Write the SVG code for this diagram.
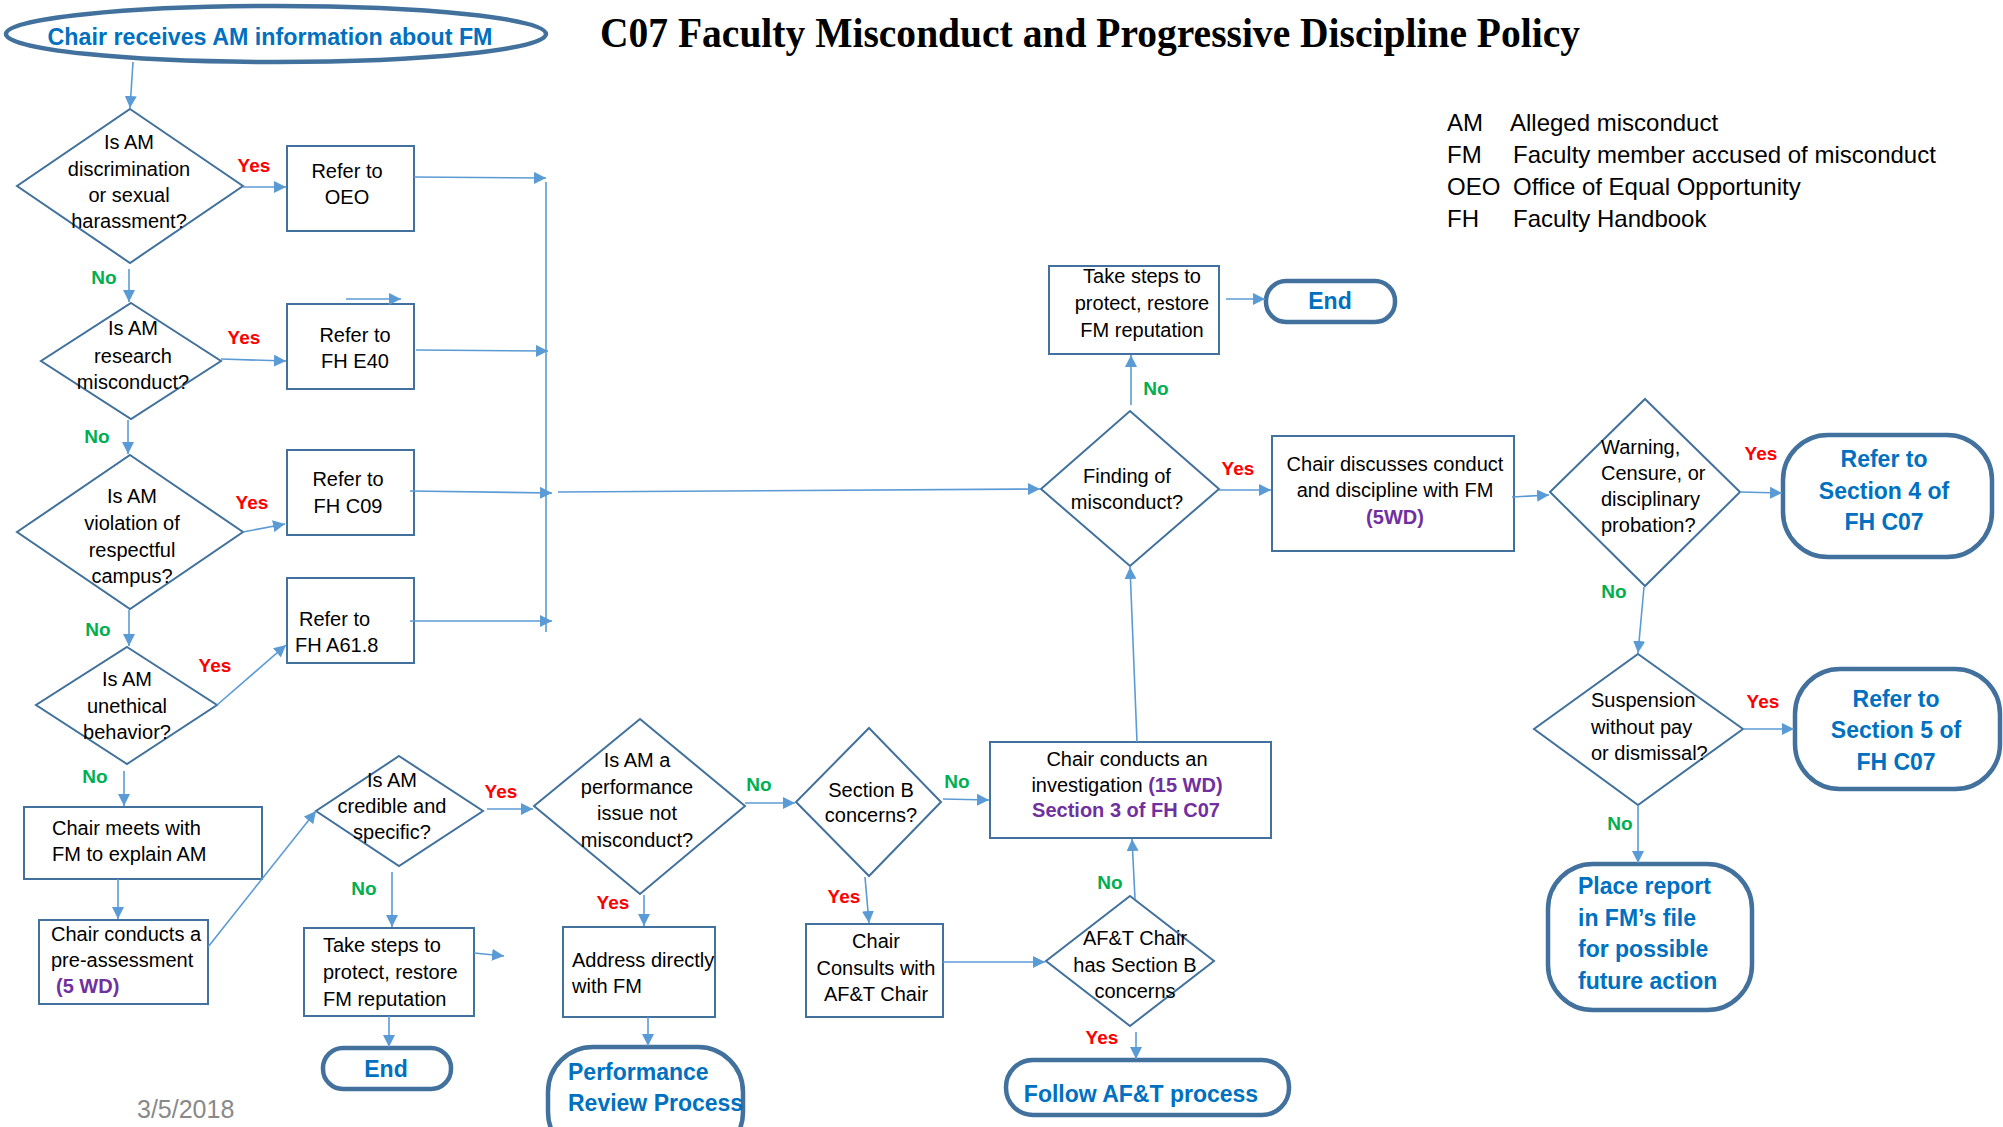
<svg xmlns="http://www.w3.org/2000/svg" width="2003" height="1127" viewBox="0 0 2003 1127">
<style>
.t{font-family:"Liberation Sans",Arial,sans-serif;font-size:20px;fill:#000}
.c{text-anchor:middle}
.lg{font-family:"Liberation Sans",Arial,sans-serif;font-size:24px;fill:#000}
.yes{font-family:"Liberation Sans",Arial,sans-serif;font-size:19px;font-weight:bold;fill:#FF0000;text-anchor:middle}
.no{font-family:"Liberation Sans",Arial,sans-serif;font-size:19px;font-weight:bold;fill:#00B050;text-anchor:middle}
.tt{font-family:"Liberation Sans",Arial,sans-serif;font-size:23px;font-weight:bold;fill:#0070C0}
.pur{font-weight:bold;fill:#7030A0}
.box{fill:#fff;stroke:#41719C;stroke-width:2}
.term{fill:#fff;stroke:#41719C;stroke-width:4.5}
.conn line{stroke:#5B9BD5;stroke-width:1.6;fill:none}
.arr{marker-end:url(#ah)}
</style>
<defs>
<marker id="ah" markerUnits="userSpaceOnUse" markerWidth="13" markerHeight="12" refX="12" refY="6" orient="auto">
<path d="M0,0 L12,6 L0,12 z" fill="#5B9BD5"/>
</marker>
</defs>
<rect width="2003" height="1127" fill="#fff"/>

<g id="title">
<text x="1090" y="47" text-anchor="middle" font-family="'Liberation Serif','Times New Roman',serif" font-size="43" font-weight="bold" textLength="980" lengthAdjust="spacingAndGlyphs">C07 Faculty Misconduct and Progressive Discipline Policy</text>
</g>

<g id="legend" class="lg">
<text x="1447" y="131">AM</text><text x="1510" y="131">Alleged misconduct</text>
<text x="1447" y="163">FM</text><text x="1513" y="163">Faculty member accused of misconduct</text>
<text x="1447" y="195">OEO</text><text x="1513" y="195">Office of Equal Opportunity</text>
<text x="1447" y="227">FH</text><text x="1513" y="227">Faculty Handbook</text>
</g>

<g id="date">
<text x="137" y="1118" font-family="'Liberation Sans',Arial,sans-serif" font-size="25" fill="#898989">3/5/2018</text>
</g>

<g id="start">
<ellipse cx="276" cy="34" rx="270" ry="28" class="term"/>
<text x="270" y="45" class="tt c" textLength="445" lengthAdjust="spacingAndGlyphs">Chair receives AM information about FM</text>
</g>

<g id="d1">
<polygon points="130,109 243,186 130,263 17,186" class="box"/>
<text class="t c"><tspan x="129" y="149">Is AM</tspan><tspan x="129" y="176">discrimination</tspan><tspan x="129" y="202">or sexual</tspan><tspan x="129" y="228">harassment?</tspan></text>
</g>
<g id="oeo">
<rect x="287" y="146" width="127" height="85" class="box"/>
<text class="t c"><tspan x="347" y="178">Refer to</tspan><tspan x="347" y="204">OEO</tspan></text>
</g>

<g id="d2">
<polygon points="131,303 221,361 131,419 41,361" class="box"/>
<text class="t c"><tspan x="133" y="335">Is AM</tspan><tspan x="133" y="363">research</tspan><tspan x="133" y="389">misconduct?</tspan></text>
</g>
<g id="e40">
<rect x="287" y="304" width="127" height="85" class="box"/>
<text class="t c"><tspan x="355" y="342">Refer to</tspan><tspan x="355" y="368">FH E40</tspan></text>
</g>

<g id="d3">
<polygon points="130,455 243,532 130,609 17,532" class="box"/>
<text class="t c"><tspan x="132" y="503">Is AM</tspan><tspan x="132" y="530">violation of</tspan><tspan x="132" y="557">respectful</tspan><tspan x="132" y="583">campus?</tspan></text>
</g>
<g id="c09">
<rect x="287" y="450" width="127" height="85" class="box"/>
<text class="t c"><tspan x="348" y="486">Refer to</tspan><tspan x="348" y="513">FH C09</tspan></text>
</g>

<g id="d4">
<polygon points="127,647 217,705 127,764 36,705" class="box"/>
<text class="t c"><tspan x="127" y="686">Is AM</tspan><tspan x="127" y="713">unethical</tspan><tspan x="127" y="739">behavior?</tspan></text>
</g>
<g id="a618">
<rect x="287" y="578" width="127" height="85" class="box"/>
<text class="t"><tspan x="299" y="626">Refer to</tspan><tspan x="295" y="652">FH A61.8</tspan></text>
</g>

<g id="meets">
<rect x="24" y="807" width="238" height="72" class="box"/>
<text class="t"><tspan x="52" y="835">Chair meets with</tspan><tspan x="52" y="861">FM to explain AM</tspan></text>
</g>
<g id="preassess">
<rect x="39" y="920" width="169" height="84" class="box"/>
<text class="t"><tspan x="51" y="941">Chair conducts a</tspan><tspan x="51" y="967">pre-assessment</tspan><tspan x="56" y="993" class="pur">(5 WD)</tspan></text>
</g>

<g id="d5">
<polygon points="399,756 483,811 399,866 316,811" class="box"/>
<text class="t c"><tspan x="392" y="787">Is AM</tspan><tspan x="392" y="813">credible and</tspan><tspan x="392" y="839">specific?</tspan></text>
</g>
<g id="steps1">
<rect x="304" y="928" width="170" height="88" class="box"/>
<text class="t"><tspan x="323" y="952">Take steps to</tspan><tspan x="323" y="979">protect, restore</tspan><tspan x="323" y="1006">FM reputation</tspan></text>
</g>
<g id="end1">
<rect x="323" y="1048" width="128" height="41" rx="20" class="term"/>
<text x="386" y="1077" class="tt c">End</text>
</g>

<g id="d6">
<polygon points="640,719 745,806 640,894 534,806" class="box"/>
<text class="t c"><tspan x="637" y="767">Is AM a</tspan><tspan x="637" y="794">performance</tspan><tspan x="637" y="820">issue not</tspan><tspan x="637" y="847">misconduct?</tspan></text>
</g>
<g id="address">
<rect x="563" y="927" width="152" height="90" class="box"/>
<text class="t"><tspan x="572" y="967">Address directly</tspan><tspan x="572" y="993">with FM</tspan></text>
</g>
<g id="perf">
<rect x="548" y="1047" width="195" height="110" rx="45" class="term"/>
<text class="tt"><tspan x="568" y="1080">Performance</tspan><tspan x="568" y="1111">Review Process</tspan></text>
</g>

<g id="d7">
<polygon points="869,728 941,802 869,876 796,802" class="box"/>
<text class="t c"><tspan x="871" y="797">Section B</tspan><tspan x="871" y="822">concerns?</tspan></text>
</g>
<g id="consult">
<rect x="806" y="924" width="137" height="93" class="box"/>
<text class="t c"><tspan x="876" y="948">Chair</tspan><tspan x="876" y="975">Consults with</tspan><tspan x="876" y="1001">AF&amp;T Chair</tspan></text>
</g>
<g id="investigation">
<rect x="990" y="742" width="281" height="96" class="box"/>
<text class="t c"><tspan x="1127" y="766">Chair conducts an</tspan><tspan x="1127" y="792">investigation <tspan class="pur">(15 WD)</tspan></tspan><tspan x="1126" y="817" class="pur">Section 3 of FH C07</tspan></text>
</g>
<g id="d8">
<polygon points="1130,896 1214,961 1130,1026 1046,961" class="box"/>
<text class="t c"><tspan x="1135" y="945">AF&amp;T Chair</tspan><tspan x="1135" y="972">has Section B</tspan><tspan x="1135" y="998">concerns</tspan></text>
</g>
<g id="follow">
<rect x="1006" y="1060" width="283" height="55" rx="27" class="term"/>
<text x="1141" y="1102" class="tt c">Follow AF&amp;T process</text>
</g>

<g id="d9">
<polygon points="1130,411 1219,489 1130,566 1041,489" class="box"/>
<text class="t c"><tspan x="1127" y="483">Finding of</tspan><tspan x="1127" y="509">misconduct?</tspan></text>
</g>
<g id="steps2">
<rect x="1049" y="266" width="170" height="88" class="box"/>
<text class="t c"><tspan x="1142" y="283">Take steps to</tspan><tspan x="1142" y="310">protect, restore</tspan><tspan x="1142" y="337">FM reputation</tspan></text>
</g>
<g id="end2">
<rect x="1266" y="281" width="129" height="41" rx="20" class="term"/>
<text x="1330" y="309" class="tt c">End</text>
</g>
<g id="discuss">
<rect x="1272" y="436" width="242" height="115" class="box"/>
<text class="t c"><tspan x="1395" y="471">Chair discusses conduct</tspan><tspan x="1395" y="497">and discipline with FM</tspan><tspan x="1395" y="524" class="pur">(5WD)</tspan></text>
</g>

<g id="d10">
<polygon points="1645,399 1740,492 1645,586 1550,492" class="box"/>
<text class="t"><tspan x="1601" y="454">Warning,</tspan><tspan x="1601" y="480">Censure, or</tspan><tspan x="1601" y="506">disciplinary</tspan><tspan x="1601" y="532">probation?</tspan></text>
</g>
<g id="sec4">
<rect x="1783" y="435" width="209" height="122" rx="45" class="term"/>
<text class="tt c"><tspan x="1884" y="467">Refer to</tspan><tspan x="1884" y="499">Section 4 of</tspan><tspan x="1884" y="530">FH C07</tspan></text>
</g>
<g id="d11">
<polygon points="1638,654 1743,729 1638,805 1534,729" class="box"/>
<text class="t"><tspan x="1591" y="707">Suspension</tspan><tspan x="1591" y="734">without pay</tspan><tspan x="1591" y="760">or dismissal?</tspan></text>
</g>
<g id="sec5">
<rect x="1795" y="669" width="205" height="120" rx="45" class="term"/>
<text class="tt c"><tspan x="1896" y="707">Refer to</tspan><tspan x="1896" y="738">Section 5 of</tspan><tspan x="1896" y="770">FH C07</tspan></text>
</g>
<g id="place">
<rect x="1548" y="864" width="204" height="146" rx="45" class="term"/>
<text class="tt"><tspan x="1578" y="894">Place report</tspan><tspan x="1578" y="926">in FM’s file</tspan><tspan x="1578" y="957">for possible</tspan><tspan x="1578" y="989">future action</tspan></text>
</g>

<g id="connectors" class="conn">
<line x1="133" y1="62" x2="130" y2="108" class="arr"/>
<line x1="243" y1="187" x2="286" y2="187" class="arr"/>
<line x1="414" y1="177" x2="546" y2="178" class="arr"/>
<line x1="129" y1="269" x2="129" y2="302" class="arr"/>
<line x1="221" y1="359" x2="286" y2="361" class="arr"/>
<line x1="346" y1="299" x2="401" y2="299" class="arr"/>
<line x1="416" y1="350" x2="548" y2="351" class="arr"/>
<line x1="128" y1="420" x2="128" y2="454" class="arr"/>
<line x1="243" y1="532" x2="285" y2="524" class="arr"/>
<line x1="410" y1="491" x2="552" y2="493" class="arr"/>
<line x1="546" y1="182" x2="546" y2="632"/>
<line x1="410" y1="621" x2="552" y2="621" class="arr"/>
<line x1="558" y1="492" x2="1040" y2="489" class="arr"/>
<line x1="129" y1="610" x2="129" y2="646" class="arr"/>
<line x1="217" y1="705" x2="286" y2="645" class="arr"/>
<line x1="124" y1="771" x2="124" y2="806" class="arr"/>
<line x1="118" y1="879" x2="118" y2="919" class="arr"/>
<line x1="208" y1="947" x2="316" y2="811" class="arr"/>
<line x1="487" y1="809" x2="533" y2="809" class="arr"/>
<line x1="392" y1="872" x2="392" y2="927" class="arr"/>
<line x1="474" y1="953" x2="504" y2="956" class="arr"/>
<line x1="389" y1="1016" x2="389" y2="1047" class="arr"/>
<line x1="745" y1="803" x2="795" y2="803" class="arr"/>
<line x1="644" y1="895" x2="644" y2="926" class="arr"/>
<line x1="648" y1="1017" x2="648" y2="1046" class="arr"/>
<line x1="943" y1="799" x2="989" y2="800" class="arr"/>
<line x1="865" y1="877" x2="869" y2="923" class="arr"/>
<line x1="943" y1="962" x2="1045" y2="962" class="arr"/>
<line x1="1135" y1="899" x2="1132" y2="839" class="arr"/>
<line x1="1136" y1="1032" x2="1136" y2="1059" class="arr"/>
<line x1="1137" y1="742" x2="1130" y2="567" class="arr"/>
<line x1="1131" y1="405" x2="1131" y2="355" class="arr"/>
<line x1="1226" y1="299" x2="1265" y2="299" class="arr"/>
<line x1="1219" y1="490" x2="1271" y2="490" class="arr"/>
<line x1="1512" y1="497" x2="1549" y2="495" class="arr"/>
<line x1="1740" y1="492" x2="1782" y2="493" class="arr"/>
<line x1="1644" y1="587" x2="1638" y2="653" class="arr"/>
<line x1="1743" y1="729" x2="1794" y2="729" class="arr"/>
<line x1="1638" y1="805" x2="1638" y2="863" class="arr"/>
</g>

<g id="labels">
<text x="254" y="172" class="yes">Yes</text>
<text x="104" y="284" class="no">No</text>
<text x="244" y="344" class="yes">Yes</text>
<text x="97" y="443" class="no">No</text>
<text x="252" y="509" class="yes">Yes</text>
<text x="98" y="636" class="no">No</text>
<text x="215" y="672" class="yes">Yes</text>
<text x="95" y="783" class="no">No</text>
<text x="501" y="798" class="yes">Yes</text>
<text x="364" y="895" class="no">No</text>
<text x="759" y="791" class="no">No</text>
<text x="613" y="909" class="yes">Yes</text>
<text x="957" y="788" class="no">No</text>
<text x="844" y="903" class="yes">Yes</text>
<text x="1110" y="889" class="no">No</text>
<text x="1102" y="1044" class="yes">Yes</text>
<text x="1156" y="395" class="no">No</text>
<text x="1238" y="475" class="yes">Yes</text>
<text x="1761" y="460" class="yes">Yes</text>
<text x="1614" y="598" class="no">No</text>
<text x="1763" y="708" class="yes">Yes</text>
<text x="1620" y="830" class="no">No</text>
</g>
</svg>
